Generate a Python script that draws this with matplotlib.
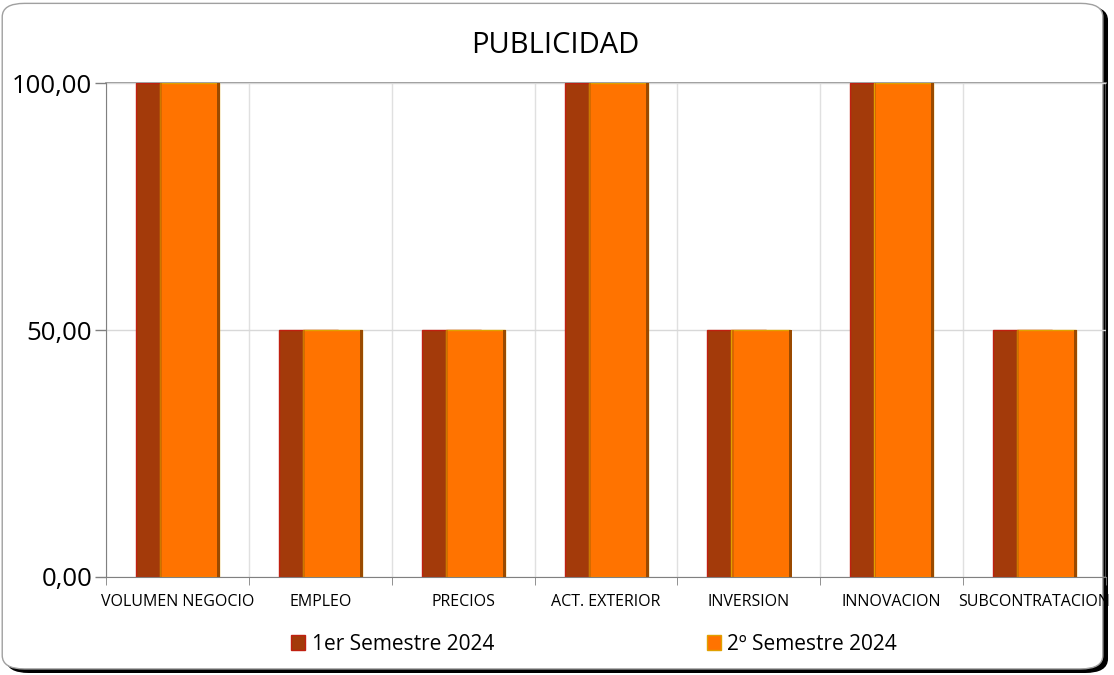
import matplotlib.pyplot as plt
from matplotlib.patches import FancyBboxPatch
import numpy as np

plt.rcParams['font.family'] = ['Open Sans', 'DejaVu Sans']

categorias = ['VOLUMEN NEGOCIO', 'EMPLEO', 'PRECIOS', 'ACT. EXTERIOR',
              'INVERSION', 'INNOVACION', 'SUBCONTRATACION']
sem1 = [100, 50, 50, 100, 50, 100, 50]
sem2 = [100, 50, 50, 100, 50, 100, 50]
series = ['1er Semestre 2024', '2º Semestre 2024']
yticks = [0, 50, 100]
ylabels = ['0,00', '50,00', '100,00']

fig = plt.figure(figsize=(11.14, 6.75), dpi=100)

# marco redondeado con sombra
sombra = FancyBboxPatch((0.006, 0.004), 0.988, 0.986, boxstyle='round,pad=0,rounding_size=0.02',
                        transform=fig.transFigure, facecolor='black', edgecolor='black', lw=1, zorder=-2)
marco = FancyBboxPatch((0.002, 0.009), 0.988, 0.986, boxstyle='round,pad=0,rounding_size=0.02',
                       transform=fig.transFigure, facecolor='white', edgecolor='#a0a0a0', lw=1, zorder=-1)
fig.patches.extend([sombra, marco])

ax = fig.add_axes([0.0952, 0.1452, 0.8976, 0.7318])
ax.set_facecolor('none')

x = np.arange(len(categorias))
w = 0.413
d = 0.084
b1 = ax.bar(x - d, sem1, w, color='#a33a0a', edgecolor='#c02010', lw=1, zorder=2,
            label=series[0])
b2 = ax.bar(x + d, sem2, w, color='#ff7300', edgecolor='#e0a000', lw=1, zorder=3,
            label=series[1])
# sombra lateral de las barras naranjas
for r in b2:
    ax.bar(r.get_x() + r.get_width() - 0.012, r.get_height(), 0.02, align='edge',
           color='#9a4a00', lw=0, zorder=4)
    ax.bar(r.get_x() + 0.003, r.get_height(), 0.012, align='edge',
           color='#c06000', lw=0, zorder=4, alpha=0.6)

ax.set_xlim(-0.5, len(categorias) - 0.5)
ax.set_ylim(0, 100)
ax.set_yticks(yticks)
ax.set_yticklabels(ylabels, fontsize=18.5)
ax.set_xticks(x)
ax.set_xticklabels(categorias, fontsize=11.5)
ax.tick_params(axis='x', length=0, pad=12)
ax.set_xticks(np.arange(-0.5, len(categorias)), minor=True)
ax.tick_params(axis='x', which='minor', length=6, color='#808080', direction='out')
ax.tick_params(axis='y', length=8, color='#808080', width=1, pad=2)

ax.grid(axis='x', which='minor', color='#e0e0e0', lw=1, zorder=0)
ax.grid(axis='y', color='#d8d8d8', lw=1, zorder=0)
for s in ['top', 'right']:
    ax.spines[s].set_visible(False)
ax.spines['left'].set_color('#808080')
ax.spines['bottom'].set_color('#808080')
ax.axhline(100, color='#909090', lw=1.2, zorder=1, clip_on=False)
ax.axvline(len(categorias) - 0.5, color='#c8c8c8', lw=1, zorder=1)

fig.text(0.498, 0.932, 'PUBLICIDAD', ha='center', va='center', fontsize=21)

ax.legend(loc='upper center', bbox_to_anchor=(0.488, -0.077), ncol=2, frameon=False,
          fontsize=15, handlelength=0.7, handleheight=0.7, handletextpad=0.3,
          columnspacing=10.2)

fig.savefig('out.png', dpi=100)
